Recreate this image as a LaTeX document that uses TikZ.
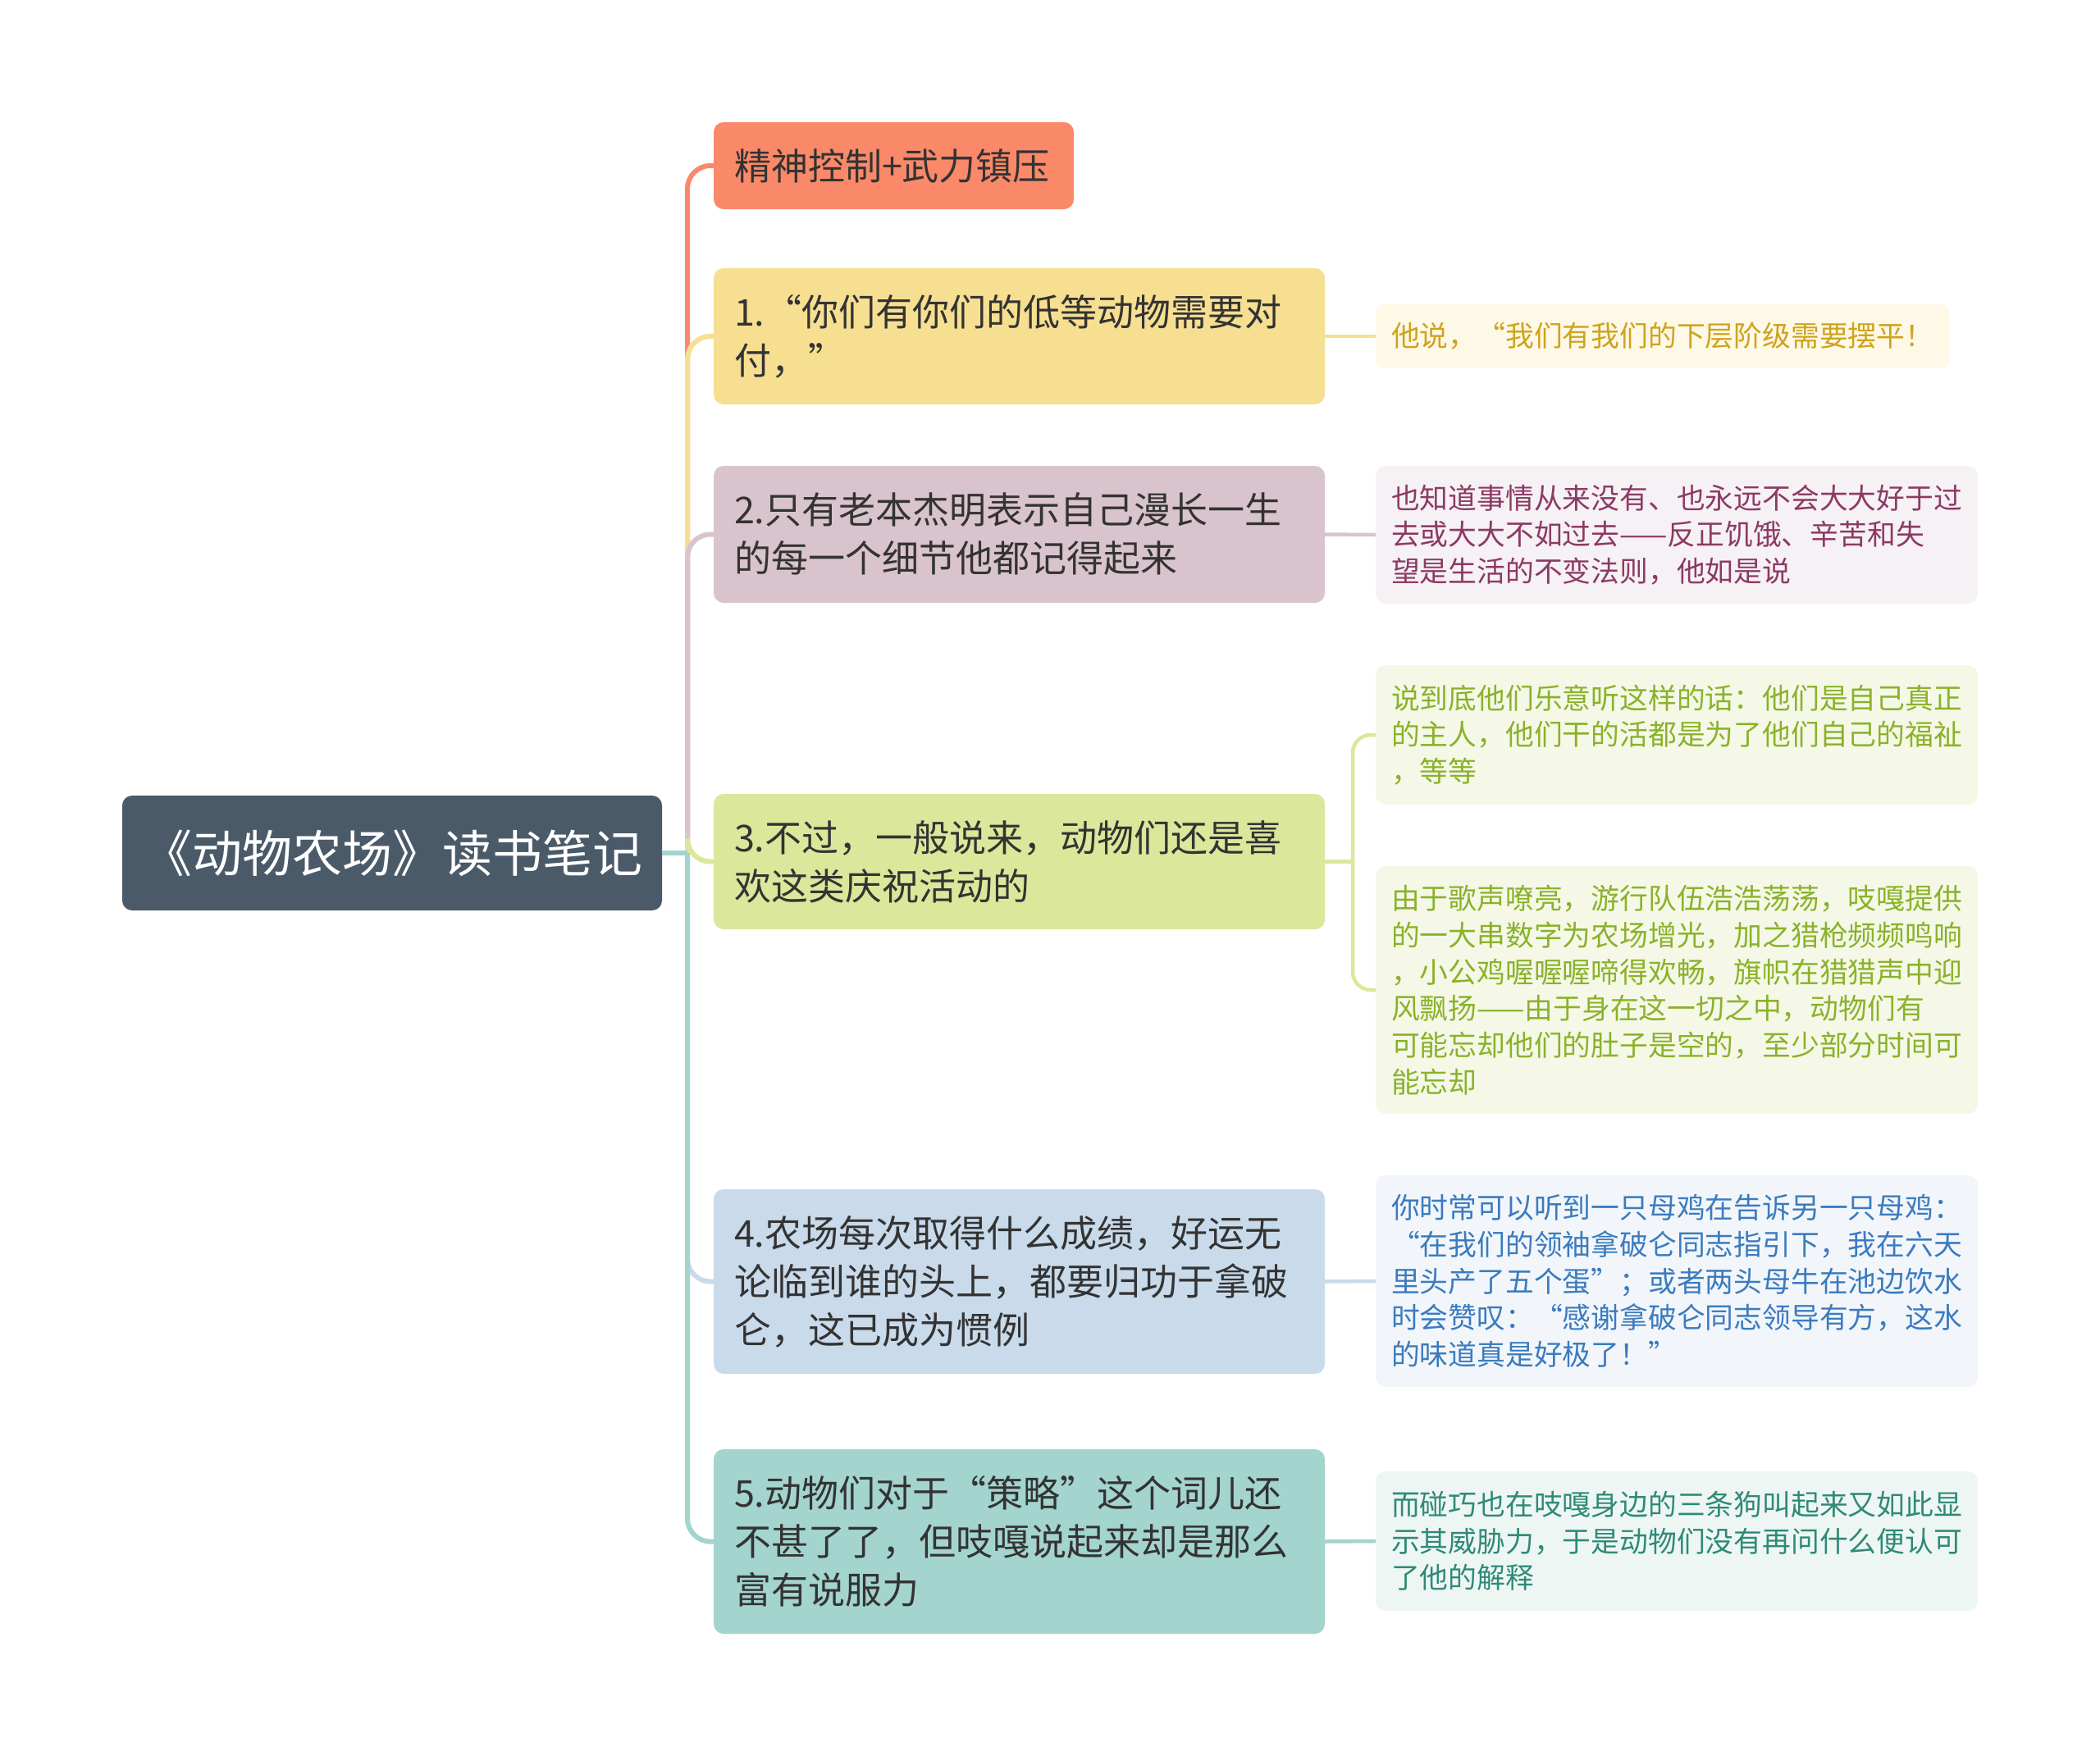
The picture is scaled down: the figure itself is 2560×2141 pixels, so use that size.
\documentclass[tikz,border=0pt]{standalone}
\usepackage{fontspec}
\setmainfont{Noto Sans CJK SC}
\definecolor{rootc}{HTML}{4A5A69}
\definecolor{c0}{HTML}{FA896A}
\definecolor{c1}{HTML}{F6DF90}
\definecolor{c2}{HTML}{D9C4CE}
\definecolor{c3}{HTML}{DBE79A}
\definecolor{c4}{HTML}{C9DAEA}
\definecolor{c5}{HTML}{A3D4CE}
\definecolor{f1}{HTML}{FEF8E7}
\definecolor{f2}{HTML}{F6F1F4}
\definecolor{f3}{HTML}{F5F8E7}
\definecolor{f4}{HTML}{F2F6FA}
\definecolor{f5}{HTML}{EEF6F4}
\definecolor{t1}{HTML}{CFA31B}
\definecolor{t2}{HTML}{8C3A65}
\definecolor{t3}{HTML}{8AB22A}
\definecolor{t4}{HTML}{3B7BBF}
\definecolor{t5}{HTML}{2E8A77}
\definecolor{txt}{HTML}{333333}
\begin{document}
\begin{tikzpicture}[x=1pt,y=-1pt,
  rootbox/.style={rounded corners=12pt, fill=rootc, text=white, inner xsep=15pt, inner ysep=0pt,
    align=center, font=\fontsize{61}{72}\selectfont},
  topic/.style={rounded corners=12pt, inner xsep=25pt, inner ysep=0pt, align=left, text=txt,
    font=\fontsize{45}{59}\selectfont},
  leaf/.style={rounded corners=12pt, inner xsep=19pt, inner ysep=0pt, align=left,
    font=\fontsize{34.8}{44.7}\selectfont},
  branch/.style={line width=6pt, rounded corners=28pt},
  sub/.style={line width=4.5pt, rounded corners=22pt}]
\useasboundingbox (0,0) rectangle (2560,2141);
\fill[white] (0,0) rectangle (2560,2141);

% root
\node[rootbox, minimum width=658pt, minimum height=140pt, text width=628pt] (root) at (478,1040) {《动物农场》读书笔记};

% topics
\node[topic, fill=c0, minimum height=106pt, text width=389pt] (n0) at (1089.5,202) {精神控制+武力镇压};
\node[topic, fill=c1, minimum height=166pt, text width=695pt] (n1) at (1242.5,410) {1.“你们有你们的低等动物需要对\\付，”};
\node[topic, fill=c2, minimum height=167pt, text width=695pt] (n2) at (1242.5,651.5) {2.只有老本杰明表示自己漫长一生\\的每一个细节他都记得起来};
\node[topic, fill=c3, minimum height=165pt, text width=695pt] (n3) at (1242.5,1050.5) {3.不过，一般说来，动物们还是喜\\欢这类庆祝活动的};
\node[topic, fill=c4, minimum height=225pt, text width=695pt] (n4) at (1242.5,1562.5) {4.农场每次取得什么成绩，好运无\\论临到谁的头上，都要归功于拿破\\仑，这已成为惯例};
\node[topic, fill=c5, minimum height=225pt, text width=695pt] (n5) at (1242.5,1879.5) {5.动物们对于“策略”这个词儿还\\不甚了了，但吱嘎说起来却是那么\\富有说服力};

% leaves
\node[leaf, fill=f1, text=t1, minimum height=78pt, text width=662pt] (l1) at (2027,410) {他说，“我们有我们的下层阶级需要摆平！};
\node[leaf, fill=f2, text=t2, minimum height=168pt, text width=696pt] (l2) at (2044,652) {也知道事情从来没有、也永远不会大大好于过\\去或大大不如过去——反正饥饿、辛苦和失\\望是生活的不变法则，他如是说};
\node[leaf, fill=f3, text=t3, minimum height=170pt, text width=696pt] (l3a) at (2044,896) {说到底他们乐意听这样的话：他们是自己真正\\的主人，他们干的活都是为了他们自己的福祉\\，等等};
\node[leaf, fill=f3, text=t3, minimum height=302pt, text width=696pt] (l3b) at (2044,1207) {由于歌声嘹亮，游行队伍浩浩荡荡，吱嘎提供\\的一大串数字为农场增光，加之猎枪频频鸣响\\，小公鸡喔喔喔啼得欢畅，旗帜在猎猎声中迎\\风飘扬——由于身在这一切之中，动物们有\\可能忘却他们的肚子是空的，至少部分时间可\\能忘却};
\node[leaf, fill=f4, text=t4, minimum height=258pt, text width=696pt] (l4) at (2044,1562) {你时常可以听到一只母鸡在告诉另一只母鸡：\\“在我们的领袖拿破仑同志指引下，我在六天\\里头产了五个蛋”；或者两头母牛在池边饮水\\时会赞叹：“感谢拿破仑同志领导有方，这水\\的味道真是好极了！”};
\node[leaf, fill=f5, text=t5, minimum height=170pt, text width=696pt] (l5) at (2044,1879) {而碰巧也在吱嘎身边的三条狗叫起来又如此显\\示其威胁力，于是动物们没有再问什么便认可\\了他的解释};

% connectors root -> topics
\coordinate (trunk) at (838,1040);
\draw[branch, c0] (trunk) |- (n0.west);
\draw[branch, c1] (trunk) |- (n1.west);
\draw[branch, c2] (trunk) |- (n2.west);
\draw[branch, c3] (trunk) |- (n3.west);
\draw[branch, c4] (trunk) |- (n4.west);
\draw[branch, c5] (trunk) |- (n5.west);
\draw[line width=6pt, c5] (root.east) -- (trunk);

% topic -> leaves
\draw[sub, c1] (n1.east) -- (l1.west);
\draw[sub, c2] (n2.east) -- (l2.west);
\coordinate (fork) at (1649,1050.5);
\draw[sub, c3] (n3.east) -- (fork);
\draw[sub, c3] (fork) |- (l3a.west);
\draw[sub, c3] (fork) |- (l3b.west);
\draw[sub, c4] (n4.east) -- (l4.west);
\draw[sub, c5] (n5.east) -- (l5.west);
\end{tikzpicture}
\end{document}
